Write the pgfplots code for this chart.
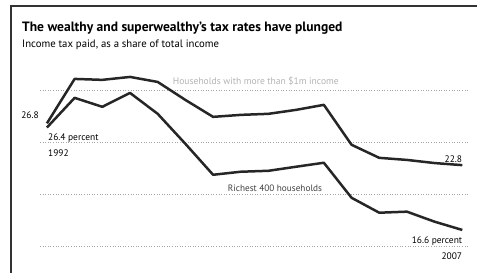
\documentclass[border=0pt]{standalone}
\usepackage{pgfplots}
\pgfplotsset{compat=1.18}
\usepackage{fontspec}
\setmainfont{PT Sans}
\pgfplotstableread{
year  million  richest
1992  26.8  26.4
1993  31.05 29.24
1994  30.96 28.38
1995  31.24 29.71
1996  30.76 27.71
1997  29.04 24.84
1998  27.42 21.88
1999  27.61 22.17
2000  27.71 22.26
2001  28.09 22.65
2002  28.57 23.03
2003  24.75 19.68
2004  23.5  18.25
2005  23.3  18.35
2006  23.0  17.39
2007  22.8  16.6
}\datatable
\begin{document}
\begin{tikzpicture}[x=1bp,y=1bp]
\begin{axis}[
  at={(0,0)}, anchor=south west,
  scale only axis, width=478bp, height=273bp,
  xmin=1990.305, xmax=2007.542,
  ymin=12.52, ymax=38.60,
  axis line style={draw=none}, ticks=none,
  clip=false,
]
\foreach \g in {15,20,25,30}{
  \edef\tmp{\noexpand\draw[gray!70, dotted, line width=0.6bp] (axis cs:1991.75,\g) -- (axis cs:2007.25,\g);}
  \tmp
}
\addplot[black!85, line width=2.5bp, line join=round] table[x=year, y=million] {\datatable};
\addplot[black!85, line width=2.5bp, line join=round] table[x=year, y=richest] {\datatable};
\end{axis}
% frame
\draw[black!80, line width=1.4bp] (11,0) -- (11,267) -- (478,267);
% titles
\node[anchor=base west, inner sep=0, font=\bfseries\fontsize{13.6}{15}\selectfont] at (22,241) {The wealthy and superwealthy’s tax rates have plunged};
\node[anchor=base west, inner sep=0, font=\fontsize{10.8}{12}\selectfont] at (22,225.5) {Income tax paid, as a share of total income};
% labels
\node[anchor=base west, inner sep=0, text=gray!60, font=\fontsize{9.6}{12}\selectfont] at (173,188) {Households with more than \$1m income};
\node[anchor=base west, inner sep=0, text=black!75, font=\fontsize{9.3}{12}\selectfont] at (228,81) {Richest 400 households};
\node[anchor=base east, inner sep=0, font=\fontsize{9.5}{11}\selectfont] at (39,154) {26.8};
\node[anchor=base west, inner sep=0, font=\fontsize{9.5}{11}\selectfont] at (48,132) {26.4 percent};
\node[anchor=base west, inner sep=0, font=\fontsize{9.5}{11}\selectfont] at (48,116) {1992};
\node[anchor=base east, inner sep=0, font=\fontsize{9.5}{11}\selectfont] at (463,110) {22.8};
\node[anchor=base east, inner sep=0, font=\fontsize{9.5}{11}\selectfont] at (463,29) {16.6 percent};
\node[anchor=base east, inner sep=0, font=\fontsize{9.5}{11}\selectfont] at (463,13) {2007};
\end{tikzpicture}
\end{document}
